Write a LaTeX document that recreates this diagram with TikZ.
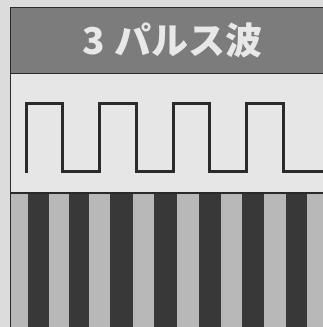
\documentclass[tikz,border=0pt]{standalone}
\usepackage{fontspec}
\newfontfamily\jpfont{Noto Sans CJK JP}
\definecolor{paper}{HTML}{DCDCDC}
\definecolor{barfill}{HTML}{7C7C7C}
\definecolor{panel}{HTML}{E6E6E6}
\definecolor{ink}{HTML}{2A2A2A}
\definecolor{stripelight}{HTML}{B8B8B8}
\definecolor{stripedark}{HTML}{383838}
\definecolor{titletext}{HTML}{E8E8E8}
\tikzset{
  frameline/.style={draw=ink, line width=1.2pt},
  wave/.style={draw=ink, line width=3pt, line join=miter},
  darkstripe/.style={fill=stripedark, draw=none},
  titlestyle/.style={text=titletext, font=\jpfont\bfseries\fontsize{37}{40}\selectfont, inner sep=0pt}
}
\begin{document}
\begin{tikzpicture}[x=1pt,y=-1pt]
\useasboundingbox (0,0) rectangle (323,327);
\fill[paper] (0,0) rectangle (323,327);
% title bar
\fill[barfill] (10.5,7.5) rectangle (323,74);
\draw[frameline] (323,7.5) -- (10.5,7.5) -- (10.5,74) -- (323,74);
\node[titlestyle] (title) at (172.5,40) {3 パルス波};
% panel
\fill[panel] (10.5,74) rectangle (323,193);
% stripes
\fill[stripelight] (10.5,193) rectangle (323,327);
\foreach \a/\b in {28.3/49.3, 69/89.3, 110/132.7, 154.3/176.7, 199/220.7, 242.3/264.3, 286/306.7}
  \fill[darkstripe] (\a,193) rectangle (\b,327);
\draw[frameline] (10.5,74) -- (10.5,327);
\draw[frameline] (10.5,193) -- (323,193);
% square wave
\draw[wave] (26,172.5) -- (26,103) -- (62.75,103) -- (62.75,171) -- (99.5,171) -- (99.5,103)
  -- (136.25,103) -- (136.25,171) -- (173,171) -- (173,103) -- (209.75,103) -- (209.75,171)
  -- (246.5,171) -- (246.5,103) -- (283.25,103) -- (283.25,171) -- (323,171);
\end{tikzpicture}
\end{document}
